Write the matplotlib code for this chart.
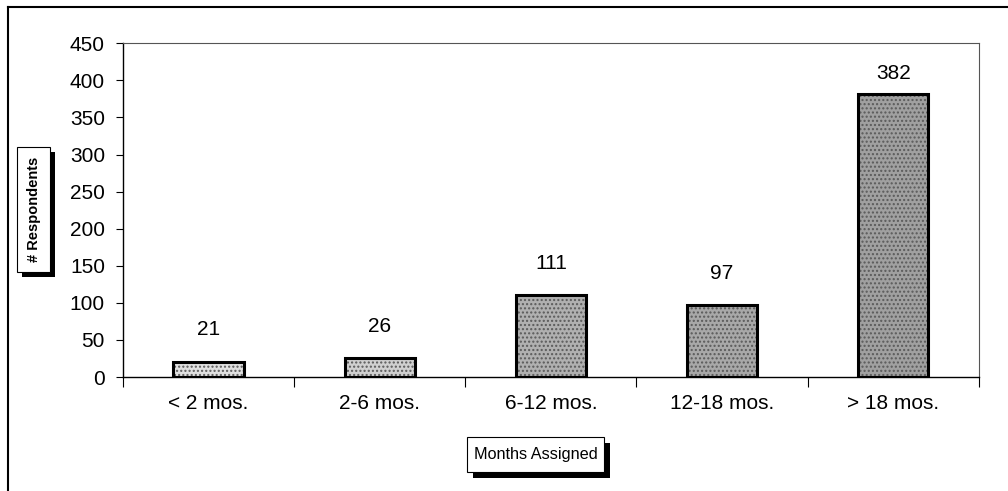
import matplotlib.pyplot as plt
import numpy as np
from matplotlib.patches import Rectangle
from matplotlib.lines import Line2D

categories = ['< 2 mos.', '2-6 mos.', '6-12 mos.', '12-18 mos.', '> 18 mos.']
respondents = [21, 26, 111, 97, 382]
yticks = [0, 50, 100, 150, 200, 250, 300, 350, 400, 450]

# scanned look: short bars came out lighter
fills = ['#e0e0e0', '#d0d0d0', '#b0b0b0', '#a8a8a8', '#a0a0a0']
# label gap above each bar (points); the tallest one sits closer
label_gap = [16, 16, 16, 16, 8]

plt.rcParams['font.family'] = ['Liberation Sans', 'DejaVu Sans']

fig = plt.figure(figsize=(10.08, 4.91), dpi=100)
ax = fig.add_axes([0.122, 0.232, 0.849, 0.680])

x = np.arange(len(categories))
ax.bar(x, respondents, width=0.41, color=fills, edgecolor='#5a5a5a',
       hatch='....', linewidth=0, zorder=2)
ax.bar(x, respondents, width=0.41, fill=False, edgecolor='black',
       linewidth=2.2, zorder=3)

for xi, v, g in zip(x, respondents, label_gap):
    ax.annotate(str(v), (xi, v), xytext=(0, g), textcoords='offset points',
                ha='center', va='bottom', fontsize=15)

ax.set_xlim(-0.5, len(categories) - 0.5)
ax.set_ylim(0, 450)
ax.set_yticks(yticks)
ax.set_xticks(x)
ax.set_xticklabels(categories, fontsize=15)
ax.set_xticks(np.arange(-0.5, len(categories)), minor=True)
ax.tick_params(axis='x', which='major', length=0, pad=12)
ax.tick_params(axis='x', which='minor', length=7, direction='out', width=0.8)
ax.tick_params(axis='y', length=5, direction='out', width=0.8, pad=8,
               labelsize=15)

for side in ['left', 'bottom']:
    ax.spines[side].set_linewidth(1.0)
for side in ['top', 'right']:
    ax.spines[side].set_linewidth(0.8)
    ax.spines[side].set_color('#555555')


def shadow_box(x0, y0, w, h, dx, dy):
    fig.patches.append(Rectangle((x0 + dx, y0 + dy), w, h, fc='black',
                                 ec='none', transform=fig.transFigure))
    fig.patches.append(Rectangle((x0, y0), w, h, fc='white', ec='black',
                                 lw=0.8, transform=fig.transFigure))


# y title box with shadow
shadow_box(0.0169, 0.446, 0.0327, 0.255, 0.005, -0.0102)
fig.text(0.0169 + 0.0327 / 2, 0.446 + 0.255 / 2, '# Respondents',
         rotation=90, ha='center', va='center', fontsize=10.5,
         fontweight='bold')

# x title box with shadow
shadow_box(0.4633, 0.0387, 0.1359, 0.0713, 0.006, -0.0122)
fig.text(0.4633 + 0.1359 / 2, 0.0387 + 0.0713 / 2, 'Months Assigned',
         ha='center', va='center', fontsize=11.7)

# outer chart frame
fig.lines.append(Line2D([0.008, 0.008], [0.0, 0.986], color='black', lw=1.5,
                        transform=fig.transFigure))
fig.lines.append(Line2D([0.008, 1.0], [0.986, 0.986], color='black', lw=1.5,
                        transform=fig.transFigure))

fig.savefig('out.png', dpi=100)
